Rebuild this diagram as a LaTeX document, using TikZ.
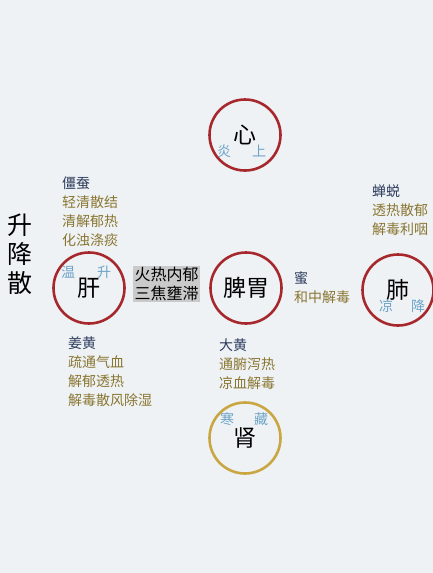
\documentclass[tikz,border=0pt]{standalone}
\usepackage{fontspec}
\setmainfont{Noto Sans CJK SC}
\usetikzlibrary{positioning}
\definecolor{bgpale}{HTML}{EEF2F5}
\definecolor{ringred}{HTML}{A6282D}
\definecolor{ringgold}{HTML}{C9A642}
\definecolor{herbnavy}{HTML}{2C3A5C}
\definecolor{effolive}{HTML}{8A7631}
\definecolor{qiblue}{HTML}{6EA3C7}
\definecolor{boxgrey}{HTML}{CACACA}

\begin{document}
\begin{tikzpicture}[x=1pt,y=-1pt,
  node distance=0pt,
  organ/.style={circle,draw=ringred,line width=2.6pt,minimum size=71pt,inner sep=0pt,font=\fontsize{23}{23}\selectfont},
  herb/.style={inner sep=0pt,minimum height=18.5pt,text width=90pt,align=left,anchor=north west,text=herbnavy,font=\fontsize{14}{14}\selectfont},
  effect/.style={herb,text=effolive},
  qi/.style={inner sep=0pt,text=qiblue,font=\fontsize{14}{14}\selectfont}
  ]
  \fill[bgpale] (0,0) rectangle (433,573);
  \useasboundingbox (0,0) rectangle (433,573);

  % title
  \node[align=center,font=\fontsize{25}{29}\selectfont] (title) at (20,254) {升\\降\\散};

  % organs
  \node[organ] (xin) at (245,135) {心};
  \node[organ] (gan) at (89,288) {肝};
  \node[organ] (piwei) at (246,288) {脾胃};
  \node[organ] (fei) at (398,290) {肺};
  \node[organ,draw=ringgold] (shen) at (245,438) {肾};

  \node[qi] (yan) at (224,151) {炎};
  \node[qi] (shang) at (259,151) {上};
  \node[qi] (wen) at (68,272) {温};
  \node[qi] (sheng) at (104,272) {升};
  \node[qi] (liang) at (386,306) {凉};
  \node[qi] (jiang) at (418,306) {降};
  \node[qi] (han) at (227,419) {寒};
  \node[qi] (cang) at (261,419) {藏};

  % pathogenesis
  \node[fill=boxgrey,inner sep=1.5pt,align=center,font=\fontsize{16}{18.5}\selectfont] (bing) at (166.5,284) {火热内郁\\三焦壅滞};

  % herbs
  \node[herb] (jiangcan) at (62,174) {僵蚕};
  \node[effect] (jc1) [below=of jiangcan] {轻清散结};
  \node[effect] (jc2) [below=of jc1] {清解郁热};
  \node[effect] (jc3) [below=of jc2] {化浊涤痰};

  \node[herb] (chantui) at (372,182) {蝉蜕};
  \node[effect] (ct1) [below=of chantui] {透热散郁};
  \node[effect] (ct2) [below=of ct1] {解毒利咽};

  \node[herb] (mi) at (294,269) {蜜};
  \node[effect] (mi1) [below=of mi] {和中解毒};

  \node[herb] (jianghuang) at (68,334) {姜黄};
  \node[effect] (jh1) [below=of jianghuang] {疏通气血};
  \node[effect] (jh2) [below=of jh1] {解郁透热};
  \node[effect] (jh3) [below=of jh2] {解毒散风除湿};

  \node[herb] (dahuang) at (219,336) {大黄};
  \node[effect] (dh1) [below=of dahuang] {通腑泻热};
  \node[effect] (dh2) [below=of dh1] {凉血解毒};
\end{tikzpicture}
\end{document}
